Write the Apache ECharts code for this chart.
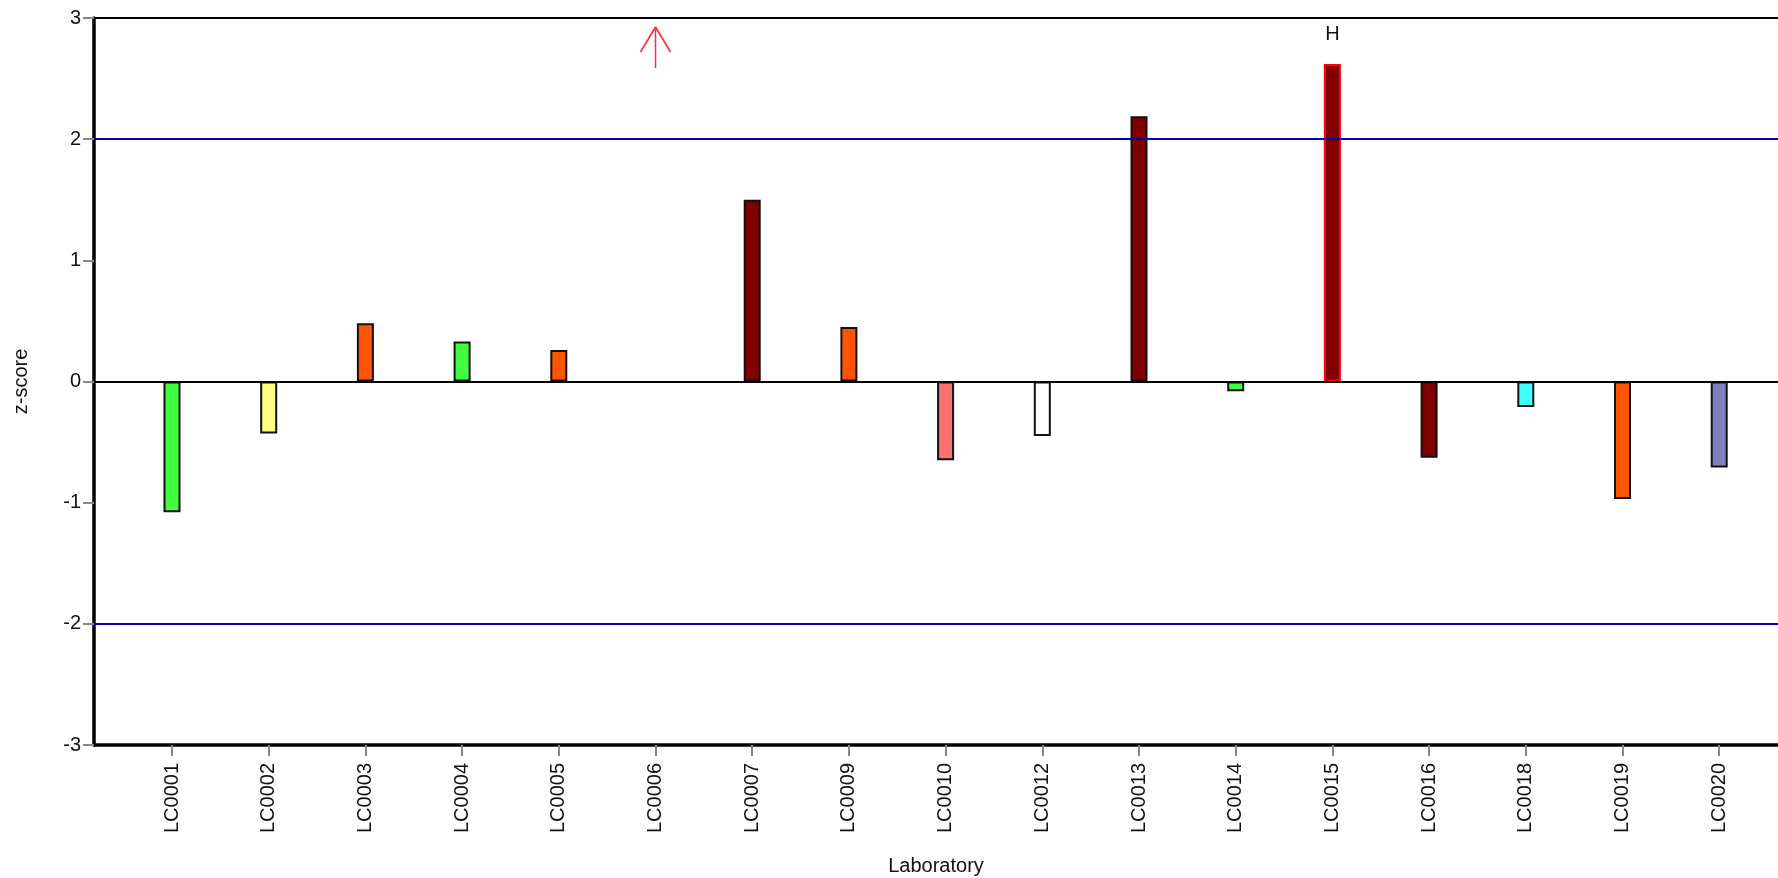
<!DOCTYPE html>
<html>
<head>
<meta charset="utf-8">
<script src="https://cdn.jsdelivr.net/npm/echarts@6/dist/echarts.min.js"></script>
<style>
html,body{margin:0;padding:0;background:#fff;}
#chart{width:1778px;height:878px;}
</style>
</head>
<body>
<div id="chart"></div>
<script>
const labs = ['LC0001','LC0002','LC0003','LC0004','LC0005','LC0006','LC0007','LC0009','LC0010','LC0012','LC0013','LC0014','LC0015','LC0016','LC0018','LC0019','LC0020'];
const zScores = [-1.08, -0.43, 0.48, 0.33, 0.26, null, 1.50, 0.45, -0.65, -0.45, 2.19, -0.08, 2.62, -0.63, -0.21, -0.97, -0.71];
const barColors = ['#40ff40','#ffff80','#ff5500','#40ff40','#ff5500','#ffffff','#800000','#ff5500','#ff7070','#ffffff','#800000','#40ff40','#800000','#800000','#40ffff','#ff5500','#8080c0'];
const flags = ['','','','','','','','','','','','','H','','','',''];
const offScaleHigh = ['LC0006'];
const yTicks = [-3, -2, -1, 0, 1, 2, 3];
const limits = [-2, 2];

const positions = labs.map((_, i) => i + 1);
const barData = labs.map((lab, i) => ({
  value: [i + 1, zScores[i]],
  itemStyle: {
    color: barColors[i],
    borderColor: flags[i] ? '#ff0000' : '#111111',
    borderWidth: 2
  },
  label: flags[i] ? {show: true, formatter: flags[i], position: 'top', distance: 20, color: '#111', fontSize: 20, fontFamily: 'Liberation Sans'} : {show: false}
}));
const arrowData = offScaleHigh.map(l => [labs.indexOf(l) + 1, yTicks[yTicks.length - 1]]);

const chart = echarts.init(document.getElementById('chart'));
chart.setOption({
  animation: false,
  backgroundColor: '#ffffff',
  textStyle: {fontFamily: 'Liberation Sans'},
  grid: {left: 94, right: 0, top: 18, bottom: 133, containLabel: false, outerBoundsMode: 'none'},
  xAxis: [{
    type: 'value',
    min: 0.1934,
    max: 17.608,
    name: 'Laboratory',
    nameLocation: 'middle',
    nameGap: 111,
    nameTextStyle: {fontSize: 20, color: '#111', fontFamily: 'Liberation Sans'},
    axisLine: {onZero: false, lineStyle: {color: '#000', width: 3.5}},
    axisTick: {show: true, customValues: positions, length: 11, lineStyle: {color: '#888', width: 2}},
    axisLabel: {customValues: positions, rotate: 90, margin: 18, fontSize: 20, color: '#111',
      formatter: v => labs[Math.round(v) - 1] || ''},
    splitLine: {show: false}
  }, {
    type: 'value',
    position: 'top',
    min: 0.1934,
    max: 17.608,
    axisLine: {show: true, onZero: false, lineStyle: {color: '#000', width: 2}},
    axisTick: {show: false},
    axisLabel: {show: false},
    splitLine: {show: false}
  }],
  yAxis: {
    type: 'value',
    min: -3,
    max: 3,
    interval: 1,
    name: 'z-score',
    nameLocation: 'middle',
    nameRotate: 90,
    nameGap: 63,
    nameTextStyle: {fontSize: 20, color: '#111', fontFamily: 'Liberation Sans'},
    axisLine: {show: true, onZero: false, lineStyle: {color: '#000', width: 3.5}},
    axisTick: {show: true, length: 11, lineStyle: {color: '#888', width: 2}},
    axisLabel: {margin: 13, fontSize: 20, color: '#111'},
    splitLine: {show: false}
  },
  series: [{
    type: 'bar',
    data: barData,
    barWidth: 17,
    markLine: {
      silent: true,
      symbol: 'none',
      label: {show: false},
      data: [
        {yAxis: 0, lineStyle: {color: '#000', width: 2, type: 'solid'}},
        {yAxis: limits[0], lineStyle: {color: '#0000a8', width: 2, type: 'solid'}},
        {yAxis: limits[1], lineStyle: {color: '#0000a8', width: 2, type: 'solid'}}
      ]
    },
    z: 3
  }, {
    type: 'scatter',
    data: arrowData,
    symbol: 'path://M15,0 L0,25 M15,0 L30,25 M15,0 L15,41',
    symbolSize: [30, 41],
    symbolOffset: [0, 29.5],
    itemStyle: {color: 'rgba(0,0,0,0)', borderColor: '#ff0000', borderWidth: 1.8},
    silent: true,
    z: 4
  }]
});
</script>
</body>
</html>
